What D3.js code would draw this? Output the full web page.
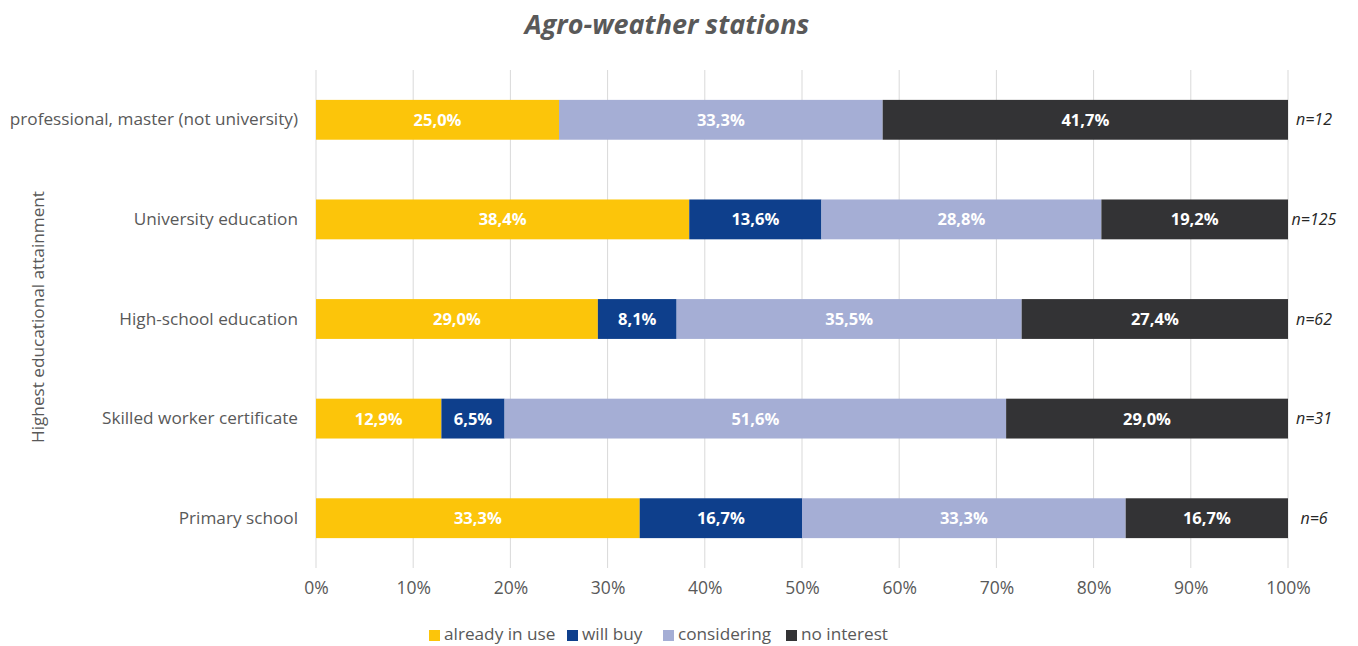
<!DOCTYPE html>
<html>
<head>
<meta charset="utf-8">
<script src="https://cdn.jsdelivr.net/npm/d3@7/dist/d3.min.js"></script>
<style>
  html, body { margin: 0; padding: 0; background: #fff; }
  svg { display: block; font-family: "Open Sans", "Noto Sans", sans-serif; }
</style>
</head>
<body>
<svg id="chart" width="1358" height="646"></svg>
<script>
// Education levels, top to bottom
const categories = [
  "professional, master (not university)",
  "University education",
  "High-school education",
  "Skilled worker certificate",
  "Primary school"
];
const sampleSizes = ["n=12", "n=125", "n=62", "n=31", "n=6"];

const seriesNames = ["already in use", "will buy", "considering", "no interest"];
const alreadyInUse = [25.0, 38.4, 29.0, 12.9, 33.3];
const willBuy      = [0.0, 13.6, 8.1, 6.5, 16.7];
const considering  = [33.3, 28.8, 35.5, 51.6, 33.3];
const noInterest   = [41.7, 19.2, 27.4, 29.0, 16.7];
const seriesColors = ["#FCC50A", "#0E3F8C", "#A5AED5", "#333335"];

const tickValues = [0, 10, 20, 30, 40, 50, 60, 70, 80, 90, 100];

const rows = categories.map((c, i) => ({
  category: c,
  n: sampleSizes[i],
  "already in use": alreadyInUse[i],
  "will buy": willBuy[i],
  "considering": considering[i],
  "no interest": noInterest[i]
}));

const svg = d3.select("#chart");
const margin = { left: 316, right: 70, top: 70, bottom: 78 };
const W = 1358, H = 646;
const FONT = "\"Open Sans\", \"Noto Sans\", sans-serif";

const x = d3.scaleLinear().domain([0, 100]).range([margin.left, W - margin.right]);
const y = d3.scaleBand().domain(categories).range([margin.top, H - margin.bottom]).paddingInner(0.6).paddingOuter(0.3);
const color = d3.scaleOrdinal().domain(seriesNames).range(seriesColors);

// Title
svg.append("text")
  .attr("x", 667).attr("y", 34)
  .attr("text-anchor", "middle")
  .attr("font-size", 27).attr("font-weight", "bold").attr("font-style", "italic")
  .attr("fill", "#595959")
  .text("Agro-weather stations");

// Vertical gridlines
svg.append("g")
  .selectAll("line").data(tickValues).join("line")
  .attr("x1", d => x(d)).attr("x2", d => x(d))
  .attr("y1", margin.top).attr("y2", H - margin.bottom)
  .attr("stroke", "#D9D9D9").attr("stroke-width", 1);

// X axis tick labels
const xAxis = d3.axisBottom(x).tickValues(tickValues).tickFormat(d => d + "%").tickSize(0).tickPadding(0);
const gx = svg.append("g").attr("transform", `translate(0,${H - margin.bottom + 14})`).call(xAxis);
gx.select(".domain").remove();
gx.selectAll("text").attr("font-size", 17.5).attr("fill", "#595959")
  .attr("font-family", FONT).attr("dy", "0.71em");

// Category labels
const yAxis = d3.axisLeft(y).tickSize(0).tickPadding(18);
const gy = svg.append("g").attr("transform", `translate(${margin.left},0)`).call(yAxis);
gy.select(".domain").remove();
gy.selectAll("text").attr("font-size", 17.2).attr("fill", "#595959")
  .attr("font-family", FONT);

// Y axis title
svg.append("text")
  .attr("transform", `translate(44,${(margin.top + H - margin.bottom) / 2 - 2}) rotate(-90)`)
  .attr("text-anchor", "middle")
  .attr("font-size", 17.2).attr("fill", "#595959")
  .text("Highest educational attainment");

// Stacked bars
const stacked = d3.stack().keys(seriesNames)(rows);
const fmt = v => v.toFixed(1).replace(".", ",") + "%";

const layers = svg.append("g").selectAll("g").data(stacked).join("g")
  .attr("fill", d => color(d.key));

layers.selectAll("rect").data(d => d).join("rect")
  .attr("x", d => x(d[0]))
  .attr("y", d => y(d.data.category))
  .attr("width", d => x(d[1]) - x(d[0]))
  .attr("height", y.bandwidth());

// Value labels
svg.append("g").selectAll("g").data(stacked).join("g")
  .selectAll("text").data(d => d.filter(s => s[1] - s[0] > 0)).join("text")
  .attr("x", d => (x(d[0]) + x(d[1])) / 2)
  .attr("y", d => y(d.data.category) + y.bandwidth() / 2)
  .attr("dy", "0.36em")
  .attr("text-anchor", "middle")
  .attr("font-size", 16.5).attr("font-weight", "bold").attr("fill", "#FFFFFF")
  .text(d => fmt(d[1] - d[0]));

// Sample sizes
svg.append("g").selectAll("text").data(rows).join("text")
  .attr("x", x(100) + 26)
  .attr("y", d => y(d.category) + y.bandwidth() / 2)
  .attr("dy", "0.35em")
  .attr("text-anchor", "middle")
  .attr("font-size", 16).attr("font-style", "italic").attr("fill", "#262626")
  .text(d => d.n);

// Legend
const legendX = [429, 567, 663, 786];
const legend = svg.append("g").selectAll("g").data(seriesNames).join("g")
  .attr("transform", (d, i) => `translate(${legendX[i]},634)`);
legend.append("rect").attr("x", 0).attr("y", -4).attr("width", 11).attr("height", 11)
  .attr("fill", d => color(d));
legend.append("text").attr("x", 15).attr("y", 0).attr("dy", "0.35em")
  .attr("font-size", 17.2).attr("fill", "#595959").text(d => d);
</script>
</body>
</html>
